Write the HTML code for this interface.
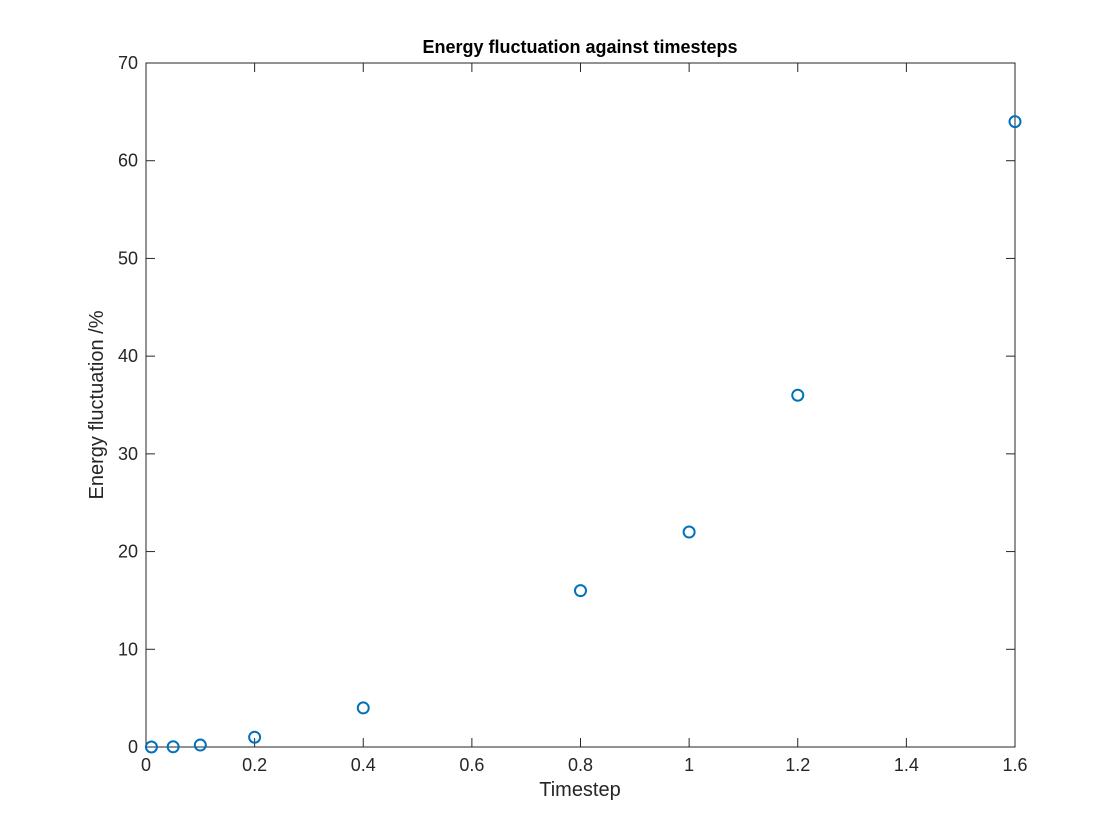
<!DOCTYPE html>
<html><head><meta charset="utf-8"><style>
html,body{margin:0;padding:0;background:#fff;}
svg{display:block;font-family:"Liberation Sans",Arial,sans-serif;}
</style></head><body>
<svg id="chart" width="1120" height="840" viewBox="0 0 1120 840">
<rect x="0" y="0" width="1120" height="840" fill="#fff"/>
<text x="580" y="53" text-anchor="middle" font-size="18" font-weight="bold" fill="#000">Energy fluctuation against timesteps</text>
<text x="580" y="796" text-anchor="middle" font-size="20" fill="#262626">Timestep</text>
<text transform="translate(103,405) rotate(-90)" text-anchor="middle" font-size="20" fill="#262626">Energy fluctuation /%</text>
<g id="axes"></g>
<g id="marks"></g>
</svg>
<script>
const xData = [0.01, 0.05, 0.1, 0.2, 0.4, 0.8, 1.0, 1.2, 1.6];
const yData = [0.0, 0.02, 0.2, 1.0, 4.0, 16.0, 22.0, 36.0, 64.0];
const xTicks = [0, 0.2, 0.4, 0.6, 0.8, 1, 1.2, 1.4, 1.6];
const xTickLabels = ["0", "0.2", "0.4", "0.6", "0.8", "1", "1.2", "1.4", "1.6"];
const yTicks = [0, 10, 20, 30, 40, 50, 60, 70];
const yTickLabels = ["0", "10", "20", "30", "40", "50", "60", "70"];

const L = 146, R = 1015, T = 63, B = 747;
const xMin = 0, xMax = 1.6, yMin = 0, yMax = 70;
function sx(v){ return L + (v - xMin) / (xMax - xMin) * (R - L); }
function sy(v){ return B - (v - yMin) / (yMax - yMin) * (B - T); }
const NS = "http://www.w3.org/2000/svg";
const axes = document.getElementById('axes');
const marks = document.getElementById('marks');
function mk(tag, attrs, parent){
  const e = document.createElementNS(NS, tag);
  for (const k in attrs) e.setAttribute(k, attrs[k]);
  parent.appendChild(e);
  return e;
}
const box = mk('rect', {x:L, y:T, width:R-L, height:B-T, fill:'none', stroke:'#262626', 'stroke-width':1}, axes);


const tl = 9;
xTicks.forEach((v, i) => {
  const x = sx(v);
  const t1 = mk('line', {x1:x, x2:x, y1:B, y2:B-tl, stroke:'#262626'}, axes);
  
  
  const t2 = mk('line', {x1:x, x2:x, y1:T, y2:T+tl, stroke:'#262626'}, axes);
  
  
  const lab = mk('text', {x:x, y:B+24, 'text-anchor':'middle', 'font-size':18, fill:'#262626'}, axes);
  lab.textContent = xTickLabels[i];
  
  
});
yTicks.forEach((v, i) => {
  const y = sy(v);
  const t1 = mk('line', {x1:L, x2:L+tl, y1:y, y2:y, stroke:'#262626'}, axes);
  
  
  const t2 = mk('line', {x1:R, x2:R-tl, y1:y, y2:y, stroke:'#262626'}, axes);
  
  
  const lab = mk('text', {x:L-8, y:y+6, 'text-anchor':'end', 'font-size':18, fill:'#262626'}, axes);
  lab.textContent = yTickLabels[i];
  
  
});
xData.forEach((v, i) => {
  const c = mk('circle', {cx:sx(v), cy:sy(yData[i]), r:5.5, fill:'none', stroke:'#0072bd', 'stroke-width':2}, marks);
  
  
});
</script>
</body></html>
